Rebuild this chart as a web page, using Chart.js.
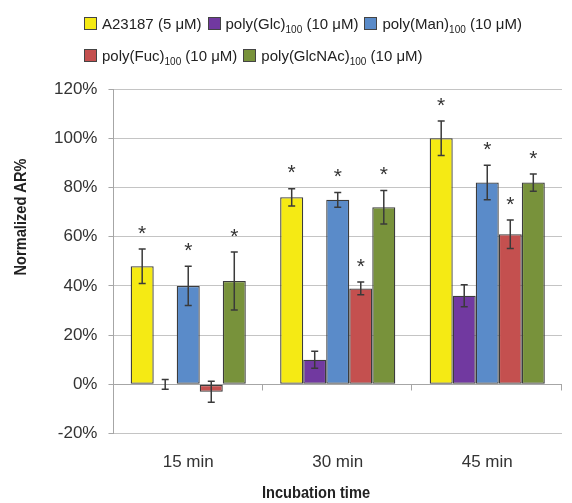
<!DOCTYPE html>
<html>
<head>
<meta charset="utf-8">
<script src="https://cdn.jsdelivr.net/npm/chart.js@4.4.1/dist/chart.umd.min.js"></script>
<style>
  body { margin: 0; background: #fff; }
  #wrap { position: relative; width: 572px; height: 503px; }
  #legend { position: absolute; left: 84px; top: 7px; font: 15px "Liberation Sans", Arial, sans-serif; color: #222; }
  .row { display: flex; height: 32px; align-items: center; }
  .item { display: flex; align-items: center; margin-right: 6px; white-space: nowrap; }
  .box { width: 11px; height: 11px; border: 1px solid #444; margin-right: 5px; flex: none; }
  sub { font-size: 10px; vertical-align: -4px; line-height: 0; }
</style>
</head>
<body>
<div id="wrap">
  <div id="legend"></div>
  <canvas id="chart" width="572" height="503"></canvas>
</div>
<script>
// données
const categories = ['15 min', '30 min', '45 min'];
const seriesNames = ['A23187 (5 μM)', 'poly(Glc)<sub>100</sub> (10 μM)', 'poly(Man)<sub>100</sub> (10 μM)',
  'poly(Fuc)<sub>100</sub> (10 μM)', 'poly(GlcNAc)<sub>100</sub> (10 μM)'];
const colors = ['#f5ea14', '#7139a0', '#5a8bc9', '#c4504f', '#78923b'];

const a23187 = [48, 76, 100];
const polyGlc = [0, 10, 36];
const polyMan = [40, 75, 82];
const polyFuc = [-3, 39, 61];
const polyGlcNAc = [42, 72, 82];

const errA23187 = [7, 3.5, 7];
const errGlc = [2, 3.5, 4.5];
const errMan = [8, 3, 7];
const errFuc = [4.3, 2.6, 5.8];
const errGlcNAc = [11.8, 6.8, 3.5];

// étoiles de significativité
const sigA23187 = [true, true, true];
const sigGlc = [false, false, false];
const sigMan = [true, true, true];
const sigFuc = [false, true, true];
const sigGlcNAc = [true, true, true];

const yTicks = [-20, 0, 20, 40, 60, 80, 100, 120];

const values = [a23187, polyGlc, polyMan, polyFuc, polyGlcNAc];
const errors = [errA23187, errGlc, errMan, errFuc, errGlcNAc];
const sigs = [sigA23187, sigGlc, sigMan, sigFuc, sigGlcNAc];

// légende HTML (indices en bas)
const legendEl = document.getElementById('legend');
const rows = [[0, 1, 2], [3, 4]];
rows.forEach(r => {
  const row = document.createElement('div');
  row.className = 'row';
  r.forEach(i => {
    row.innerHTML += `<span class="item"><span class="box" style="background:${colors[i]}"></span><span>${seriesNames[i]}</span></span>`;
  });
  legendEl.appendChild(row);
});

// titres des axes en police étroite (simulée)
function narrowText(ctx, text, x, y, rot) {
  ctx.save();
  ctx.translate(x, y);
  if (rot) ctx.rotate(-Math.PI / 2);
  ctx.scale(0.86, 1);
  ctx.font = 'bold 17px "Liberation Sans", Arial, sans-serif';
  ctx.fillStyle = '#222';
  ctx.textAlign = 'center';
  ctx.textBaseline = 'middle';
  ctx.fillText(text, 0, 0);
  ctx.restore();
}

const errorBars = {
  id: 'errorBars',
  afterDatasetsDraw(chart) {
    const ctx = chart.ctx;
    const y = chart.scales.y;
    const area = chart.chartArea;
    ctx.save();
    // axe des catégories à 0 %
    const y0 = Math.round(y.getPixelForValue(0)) + 0.5;
    ctx.strokeStyle = '#a6a6a6';
    ctx.lineWidth = 1;
    ctx.beginPath();
    ctx.moveTo(area.left, y0);
    ctx.lineTo(area.right, y0);
    const step = (area.right - area.left) / categories.length;
    for (let i = 1; i <= categories.length; i++) {
      const px = Math.round(area.left + i * step) - 0.5;
      ctx.moveTo(px, y0);
      ctx.lineTo(px, y0 + 6);
    }
    ctx.stroke();

    chart.data.datasets.forEach((ds, d) => {
      const meta = chart.getDatasetMeta(d);
      meta.data.forEach((bar, i) => {
        const v = values[d][i];
        const e = errors[d][i];
        const top = y.getPixelForValue(v + e);
        const bot = y.getPixelForValue(v - e);
        ctx.strokeStyle = '#3a3a3a';
        ctx.lineWidth = 1.5;
        ctx.beginPath();
        ctx.moveTo(bar.x, top);
        ctx.lineTo(bar.x, bot);
        ctx.moveTo(bar.x - 3.5, top);
        ctx.lineTo(bar.x + 3.5, top);
        ctx.moveTo(bar.x - 3.5, bot);
        ctx.lineTo(bar.x + 3.5, bot);
        ctx.stroke();
        if (sigs[d][i]) {
          ctx.fillStyle = '#333';
          ctx.font = '21px "Liberation Sans", Arial, sans-serif';
          ctx.textAlign = 'center';
          ctx.textBaseline = 'middle';
          ctx.fillText('*', bar.x, top - 15);
        }
      });
    });

    narrowText(ctx, 'Normalized AR%', 21, 217, true);
    narrowText(ctx, 'Incubation time', 316, 493, false);
    ctx.restore();
  }
};

const ctx = document.getElementById('chart').getContext('2d');
new Chart(ctx, {
  type: 'bar',
  data: {
    labels: categories,
    datasets: values.map((vals, i) => ({
      label: seriesNames[i],
      data: vals,
      backgroundColor: colors[i],
      borderColor: '#3c3c3c',
      borderWidth: 1.3,
      borderSkipped: false,
      barPercentage: 1,
      categoryPercentage: 0.77,
    })),
  },
  options: {
    responsive: false,
    animation: false,
    layout: { padding: { top: 89, right: 10, left: 43, bottom: 19 } },
    plugins: { legend: { display: false }, tooltip: { enabled: false } },
    scales: {
      x: {
        grid: { display: false },
        border: { display: false },
        ticks: { color: '#333', font: { size: 17, family: '"Liberation Sans", Arial' }, padding: 11 },
      },
      y: {
        min: -20,
        max: 120,
        afterBuildTicks: axis => { axis.ticks = yTicks.map(v => ({ value: v })); },
        ticks: {
          color: '#333',
          font: { size: 17, family: '"Liberation Sans", Arial' },
          padding: 11,
          callback: v => v + '%',
        },
        grid: { color: '#c4c4c4', tickLength: 5, tickColor: '#a6a6a6' },
        border: { color: '#a6a6a6' },
      },
    },
  },
  plugins: [errorBars],
});
</script>
</body>
</html>
